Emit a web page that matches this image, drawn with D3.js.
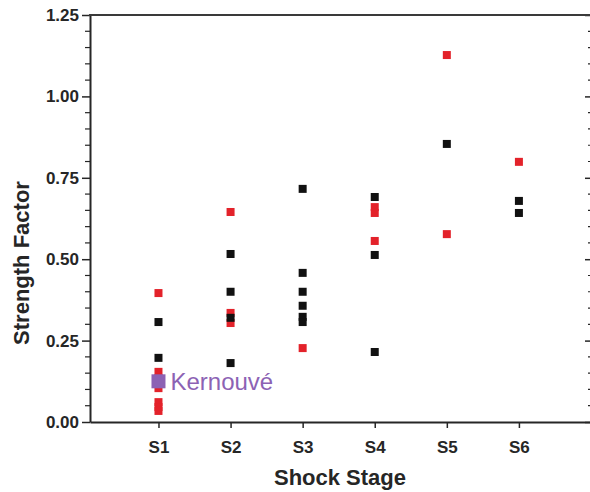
<!DOCTYPE html>
<html>
<head>
<meta charset="utf-8">
<script src="https://cdn.jsdelivr.net/npm/d3@7"></script>
<style>
  body { margin: 0; background: #fff; }
  text { font-family: "Liberation Sans", Arial, sans-serif; }
</style>
</head>
<body>
<div id="chart"></div>
<script>
// shock stages on the x axis
var stages = ["S1", "S2", "S3", "S4", "S5", "S6"];

// black series: [stage index, strength factor]
var blackPts = [
  [1, 0.307], [1, 0.197],
  [2, 0.516], [2, 0.40], [2, 0.32], [2, 0.181],
  [3, 0.716], [3, 0.458], [3, 0.40], [3, 0.357], [3, 0.323], [3, 0.307],
  [4, 0.691], [4, 0.513], [4, 0.215],
  [5, 0.854],
  [6, 0.679], [6, 0.642]
];

// red series
var redPts = [
  [1, 0.396], [1, 0.154], [1, 0.135], [1, 0.117], [1, 0.104], [1, 0.061], [1, 0.046], [1, 0.034],
  [2, 0.645], [2, 0.335], [2, 0.304],
  [3, 0.227],
  [4, 0.66], [4, 0.642], [4, 0.556],
  [5, 1.127], [5, 0.577],
  [6, 0.799]
];

// highlighted meteorite
var kernouve = { name: "Kernouvé", stage: 1, value: 0.125 };

var yMajor = [0, 0.25, 0.5, 0.75, 1.0, 1.25];

var width = 590, height = 492;
var plotL = 90, plotR = 591, plotT = 15, plotB = 422;
var ink = "#262626";

var svg = d3.select("#chart").append("svg")
    .attr("width", width)
    .attr("height", height);

var x = d3.scaleLinear().domain([0.05, 7]).range([plotL, plotR]);
var y = d3.scaleLinear().domain([0, 1.25]).range([plotB, plotT]);

// left axis, major ticks with labels
var yAxis = d3.axisLeft(y)
    .tickValues(yMajor)
    .tickFormat(d3.format(".2f"))
    .tickSize(8)
    .tickSizeOuter(0);

var gy = svg.append("g").attr("transform", "translate(" + plotL + ",0)").call(yAxis);
gy.select(".domain").attr("stroke", ink).attr("stroke-width", 2);
gy.selectAll(".tick line").attr("stroke", ink).attr("stroke-width", 1.5);
gy.selectAll(".tick text")
    .attr("font-size", 17).attr("font-weight", "bold").attr("fill", ink).attr("x", -11);

// minor ticks left
var minors = d3.range(0, 1.2501, 0.05).filter(function(v) {
  return Math.abs(v / 0.25 - Math.round(v / 0.25)) > 0.01;
});
svg.append("g").selectAll("line").data(minors).enter().append("line")
    .attr("x1", plotL - 5).attr("x2", plotL)
    .attr("y1", function(d) { return y(d); }).attr("y2", function(d) { return y(d); })
    .attr("stroke", ink).attr("stroke-width", 1.2);

// right axis with inward ticks
var yRight = d3.axisLeft(y).tickValues(yMajor).tickFormat("").tickSize(6).tickSizeOuter(0);
var gr = svg.append("g").attr("transform", "translate(" + plotR + ",0)").call(yRight);
gr.select(".domain").attr("stroke", ink).attr("stroke-width", 2);
gr.selectAll(".tick line").attr("stroke", ink).attr("stroke-width", 1.5);
svg.append("g").selectAll("line").data(minors).enter().append("line")
    .attr("x1", plotR - 3).attr("x2", plotR)
    .attr("y1", function(d) { return y(d); }).attr("y2", function(d) { return y(d); })
    .attr("stroke", ink).attr("stroke-width", 1.2);

// bottom axis
var xAxis = d3.axisBottom(x)
    .tickValues(d3.range(1, stages.length + 1))
    .tickFormat(function(d) { return stages[d - 1]; })
    .tickSize(6)
    .tickSizeOuter(0);
var gx = svg.append("g").attr("transform", "translate(0," + plotB + ")").call(xAxis);
gx.select(".domain").attr("stroke", ink).attr("stroke-width", 2);
gx.selectAll(".tick line").attr("stroke", ink).attr("stroke-width", 1.5);
gx.selectAll(".tick text")
    .attr("font-size", 17).attr("font-weight", "bold").attr("fill", ink)
    .attr("dy", null).attr("y", 31);

// top frame line
svg.append("line")
    .attr("x1", plotL - 1).attr("x2", plotR)
    .attr("y1", plotT).attr("y2", plotT)
    .attr("stroke", "#3a3a3a").attr("stroke-width", 2);

// points
var sq = 8;
function drawPts(data, color) {
  svg.append("g").selectAll("rect").data(data).enter().append("rect")
      .attr("x", function(d) { return x(d[0]) - sq / 2; })
      .attr("y", function(d) { return y(d[1]) - sq / 2; })
      .attr("width", sq).attr("height", sq)
      .attr("fill", color);
}
drawPts(redPts, "#e3222a");
drawPts(blackPts, "#111111");

// Kernouvé marker + label
var ks = 14;
svg.append("rect")
    .attr("x", x(kernouve.stage) - ks / 2)
    .attr("y", y(kernouve.value) - ks / 2)
    .attr("width", ks).attr("height", ks)
    .attr("fill", "#8c62b4");
svg.append("text")
    .attr("x", x(kernouve.stage) + 12)
    .attr("y", y(kernouve.value) + 9)
    .attr("font-size", 24)
    .attr("fill", "#8c62b4")
    .text(kernouve.name);

// axis titles
svg.append("text")
    .attr("x", 340)
    .attr("y", 485)
    .attr("text-anchor", "middle")
    .attr("font-size", 22).attr("font-weight", "bold").attr("fill", ink)
    .text("Shock Stage");

svg.append("text")
    .attr("transform", "translate(29,263) rotate(-90)")
    .attr("text-anchor", "middle")
    .attr("font-size", 22).attr("font-weight", "bold").attr("fill", ink)
    .text("Strength Factor");
</script>
</body>
</html>
